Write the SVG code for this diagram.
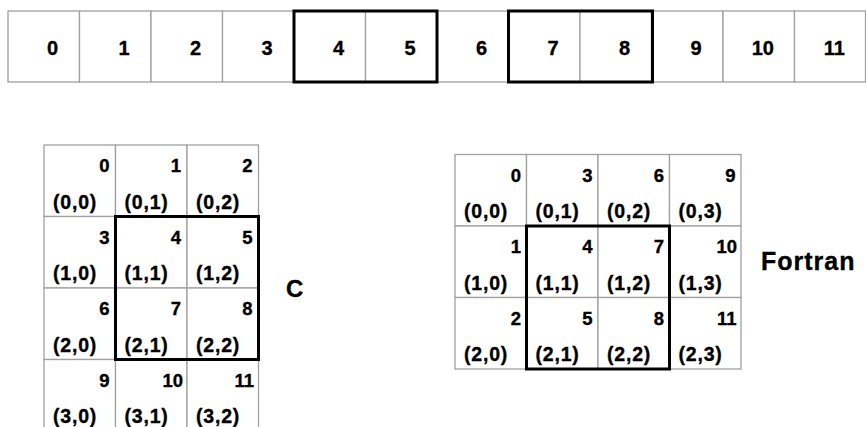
<svg xmlns="http://www.w3.org/2000/svg" width="866" height="427" viewBox="0 0 866 427">
<style>
.cell{fill:#fff;stroke:#a0a0a0;stroke-width:1.3}
.bold{fill:none;stroke:#000;stroke-width:3}
text{font-family:"Liberation Sans",Arial,sans-serif;font-weight:bold;fill:#000;stroke:#000;stroke-width:0.35}
.n{font-size:18.5px;text-anchor:end}
.t{font-size:20px;text-anchor:end}
.c{font-size:19.5px;letter-spacing:0.8px}
.lbl{font-size:24px}
.lblf{font-size:25px;letter-spacing:1px}
</style>
<rect width="866" height="427" fill="#fff"/>
<g id="linear">
<g id="lin0"><rect class="cell" x="8" y="11" width="71.5" height="71"/><text class="t" x="58" y="55">0</text></g>
<g id="lin1"><rect class="cell" x="79.5" y="11" width="71.5" height="71"/><text class="t" x="129.5" y="55">1</text></g>
<g id="lin2"><rect class="cell" x="151" y="11" width="71.5" height="71"/><text class="t" x="201" y="55">2</text></g>
<g id="lin3"><rect class="cell" x="222.5" y="11" width="71.5" height="71"/><text class="t" x="272.5" y="55">3</text></g>
<g id="lin4"><rect class="cell" x="294" y="11" width="71.5" height="71"/><text class="t" x="344" y="55">4</text></g>
<g id="lin5"><rect class="cell" x="365.5" y="11" width="71.5" height="71"/><text class="t" x="415.5" y="55">5</text></g>
<g id="lin6"><rect class="cell" x="437" y="11" width="71.5" height="71"/><text class="t" x="487" y="55">6</text></g>
<g id="lin7"><rect class="cell" x="508.5" y="11" width="71.5" height="71"/><text class="t" x="558.5" y="55">7</text></g>
<g id="lin8"><rect class="cell" x="580" y="11" width="71.5" height="71"/><text class="t" x="630" y="55">8</text></g>
<g id="lin9"><rect class="cell" x="651.5" y="11" width="71.5" height="71"/><text class="t" x="701.5" y="55">9</text></g>
<g id="lin10"><rect class="cell" x="723" y="11" width="71.5" height="71"/><text class="t" x="774" y="55">10</text></g>
<g id="lin11"><rect class="cell" x="794.5" y="11" width="71" height="71"/><text class="t" x="845" y="55">11</text></g>
<rect class="bold" x="294" y="11" width="143" height="71"/>
<rect class="bold" x="508.5" y="11" width="144" height="71"/>
</g>
<g id="cgrid">
<g id="c0"><rect class="cell" x="44" y="145" width="71.5" height="71.5"/><text class="n" x="109.5" y="172">0</text><text class="c" x="53" y="208.5">(0,0)</text></g>
<g id="c1"><rect class="cell" x="115.5" y="145" width="71.5" height="71.5"/><text class="n" x="181" y="172">1</text><text class="c" x="124.5" y="208.5">(0,1)</text></g>
<g id="c2"><rect class="cell" x="187" y="145" width="71.5" height="71.5"/><text class="n" x="252.5" y="172">2</text><text class="c" x="196" y="208.5">(0,2)</text></g>
<g id="c3"><rect class="cell" x="44" y="216.5" width="71.5" height="71.5"/><text class="n" x="109.5" y="243.5">3</text><text class="c" x="53" y="280">(1,0)</text></g>
<g id="c4"><rect class="cell" x="115.5" y="216.5" width="71.5" height="71.5"/><text class="n" x="181" y="243.5">4</text><text class="c" x="124.5" y="280">(1,1)</text></g>
<g id="c5"><rect class="cell" x="187" y="216.5" width="71.5" height="71.5"/><text class="n" x="252.5" y="243.5">5</text><text class="c" x="196" y="280">(1,2)</text></g>
<g id="c6"><rect class="cell" x="44" y="288" width="71.5" height="71.5"/><text class="n" x="109.5" y="315">6</text><text class="c" x="53" y="351.5">(2,0)</text></g>
<g id="c7"><rect class="cell" x="115.5" y="288" width="71.5" height="71.5"/><text class="n" x="181" y="315">7</text><text class="c" x="124.5" y="351.5">(2,1)</text></g>
<g id="c8"><rect class="cell" x="187" y="288" width="71.5" height="71.5"/><text class="n" x="252.5" y="315">8</text><text class="c" x="196" y="351.5">(2,2)</text></g>
<g id="c9"><rect class="cell" x="44" y="359.5" width="71.5" height="71.5"/><text class="n" x="109.5" y="386.5">9</text><text class="c" x="53" y="423">(3,0)</text></g>
<g id="c10"><rect class="cell" x="115.5" y="359.5" width="71.5" height="71.5"/><text class="n" x="183" y="386.5">10</text><text class="c" x="124.5" y="423">(3,1)</text></g>
<g id="c11"><rect class="cell" x="187" y="359.5" width="71.5" height="71.5"/><text class="n" x="254" y="386.5">11</text><text class="c" x="196" y="423">(3,2)</text></g>
<rect class="bold" x="115.5" y="216.5" width="143" height="143"/>
<text id="labelC" class="lbl" x="286" y="297">C</text>
</g>
<g id="fgrid">
<g id="f0"><rect class="cell" x="455" y="154.5" width="71.5" height="71.5"/><text class="n" x="521" y="181.5">0</text><text class="c" x="464" y="218">(0,0)</text></g>
<g id="f3"><rect class="cell" x="526.5" y="154.5" width="71.5" height="71.5"/><text class="n" x="592.5" y="181.5">3</text><text class="c" x="535.5" y="218">(0,1)</text></g>
<g id="f6"><rect class="cell" x="598" y="154.5" width="71.5" height="71.5"/><text class="n" x="664" y="181.5">6</text><text class="c" x="607" y="218">(0,2)</text></g>
<g id="f9"><rect class="cell" x="669.5" y="154.5" width="71.5" height="71.5"/><text class="n" x="735.5" y="181.5">9</text><text class="c" x="678.5" y="218">(0,3)</text></g>
<g id="f1"><rect class="cell" x="455" y="226" width="71.5" height="71.5"/><text class="n" x="521" y="253">1</text><text class="c" x="464" y="289.5">(1,0)</text></g>
<g id="f4"><rect class="cell" x="526.5" y="226" width="71.5" height="71.5"/><text class="n" x="592.5" y="253">4</text><text class="c" x="535.5" y="289.5">(1,1)</text></g>
<g id="f7"><rect class="cell" x="598" y="226" width="71.5" height="71.5"/><text class="n" x="664" y="253">7</text><text class="c" x="607" y="289.5">(1,2)</text></g>
<g id="f10"><rect class="cell" x="669.5" y="226" width="71.5" height="71.5"/><text class="n" x="737" y="253">10</text><text class="c" x="678.5" y="289.5">(1,3)</text></g>
<g id="f2"><rect class="cell" x="455" y="297.5" width="71.5" height="71.5"/><text class="n" x="521" y="324.5">2</text><text class="c" x="464" y="361">(2,0)</text></g>
<g id="f5"><rect class="cell" x="526.5" y="297.5" width="71.5" height="71.5"/><text class="n" x="592.5" y="324.5">5</text><text class="c" x="535.5" y="361">(2,1)</text></g>
<g id="f8"><rect class="cell" x="598" y="297.5" width="71.5" height="71.5"/><text class="n" x="664" y="324.5">8</text><text class="c" x="607" y="361">(2,2)</text></g>
<g id="f11"><rect class="cell" x="669.5" y="297.5" width="71.5" height="71.5"/><text class="n" x="736.5" y="324.5">11</text><text class="c" x="678.5" y="361">(2,3)</text></g>
<rect class="bold" x="526.5" y="226" width="143" height="143"/>
<text id="labelF" class="lblf" x="761" y="270">Fortran</text>
</g>
<g id="connectors"/>
</svg>
